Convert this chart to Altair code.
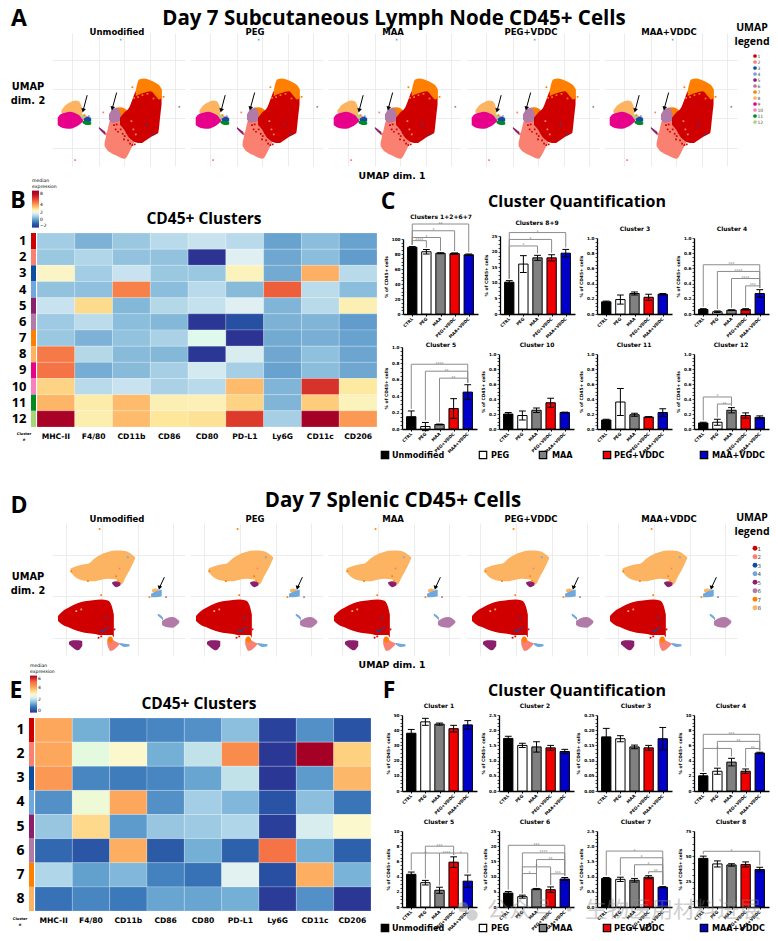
import altair as alt
import pandas as pd

BOLD = "DejaVu Sans"
HEAD = "Open Sans"

# ---------- shared categories ----------
CLUSTER_COLORS = {1: "#d00000", 2: "#fa8072", 3: "#0b4ea2", 4: "#6fa8dc", 5: "#8b1f6b", 6: "#b27aa6",
                  7: "#ff7f00", 8: "#fdb462", 9: "#e7008a", 10: "#f781bf", 11: "#008a22", 12: "#a6d67a"}
MARKERS = ["MHC-II", "F4/80", "CD11b", "CD86", "CD80", "PD-L1", "Ly6G", "CD11c", "CD206"]
GROUPS = ["CTRL", "PEG", "MAA", "PEG+VDDC", "MAA+VDDC"]
GROUP_COLORS = ["#000000", "#ffffff", "#808080", "#f00000", "#0000c8"]
TREATMENTS = ["Unmodified", "PEG", "MAA", "PEG+VDDC", "MAA+VDDC"]

# ---------- heatmaps ----------
HEAT_B = [
    [1.0, 0.5, 0.9, 1.3, 1.5, 1.3, 0.2, 0.7, 0.2],
    [0.9, 1.2, 0.8, 0.8, -2, 1.9, 0.3, 0.7, 0.1],
    [2.6, 1.0, 1.5, 0.9, 0.9, 2.7, 0.35, 3.9, 1.3],
    [0.8, 0.75, 4.7, 0.7, 1.3, 0.65, 5.3, 1.35, 0.7],
    [1.5, 3.2, 0.6, 1.25, 1.45, 1.9, 0.55, 1.3, 2.8],
    [0.95, 1.35, 0.7, 0.6, -1.9, -1.3, 0.5, 0.55, 0.1],
    [0.9, 0.5, 0.8, 1.1, 2.2, -2, 0.35, 0.45, 0.2],
    [4.8, 1.25, 0.65, 0.6, -1.9, 1.8, 0.3, 0.75, 0.25],
    [4.9, 0.4, 0.65, 1.05, 1.7, 1.05, 0.2, 0.7, 0.3],
    [3.3, 1.3, 1.5, 1.1, 1.3, 3.7, 0.55, 6.2, 3.0],
    [3.8, 2.9, 3.7, 2.8, 2.75, 3.3, 0.55, 3.4, 2.7],
    [7.8, 2.85, 3.7, 3.05, 3.1, 6.0, 1.05, 8, 4.3],
]
HEAT_E = [
    [4.1, 1.5, 1.0, 1.1, 1.2, 1.7, 0.2, 1.2, 0.4],
    [4.1, 2.8, 3.0, 1.5, 2.2, 4.5, 0.05, 6.0, 3.6],
    [4.3, 1.1, 1.0, 1.1, 1.4, 2.2, 0.05, 1.3, 3.9],
    [1.2, 2.9, 4.1, 1.2, 1.9, 1.6, 0.4, 1.7, 0.9],
    [1.8, 3.5, 1.3, 1.8, 1.85, 2.0, 0.15, 2.4, 3.0],
    [0.7, 0.45, 4.0, 0.5, 1.5, 0.6, 4.9, 1.5, 0.6],
    [2.0, 1.35, 1.6, 1.05, 0.85, 2.5, 0.35, 4.0, 1.55],
    [0.85, 1.1, 0.95, 1.4, 1.4, 1.5, 0.1, 1.2, 0.05],
]
B_DOMAIN = [-2, -1, 0, 1, 1.5, 2, 2.5, 3, 3.5, 4, 5, 6, 7, 8]
B_RANGE = ["#2c3393", "#2a5ca6", "#5a97c9", "#a2cde4", "#c8e3ef", "#e6f3f4", "#fbf7cf", "#fee9a0", "#fdc674",
           "#fdaa5f", "#f46d43", "#dd3a2b", "#b5122a", "#a50026"]
E_DOMAIN = [0, 0.5, 1, 1.5, 2, 2.5, 3, 3.5, 4, 4.5, 5, 5.5, 6]
E_RANGE = ["#2c3393", "#2b5aa7", "#3f7cbc", "#74afd6", "#b0d6e9", "#e2f2f1", "#fbf8cd", "#fed98b", "#fdae61",
           "#f98b4d", "#f46d43", "#d73027", "#a50026"]

# ---------- bar panels: title, axis top, major step, label format, values, errors, brackets (from, to, level, stars) ----------
BARS_C = [
    ("Clusters 1+2+6+7", 100, 20, "d", [89, 83, 81, 80.5, 79], [1, 3, 0.7, 1, 1],
     [(0, 1, 97.8, "****"), (0, 2, 102, "*"), (0, 3, 111, "*"), (0, 4, 120, "**")]),
    ("Clusters 8+9", 25, 5, "d", [10.2, 16, 18, 18, 19.5], [0.5, 2.7, 0.8, 1, 1.2],
     [(0, 2, 21.8, "*"), (0, 3, 23.9, "*"), (0, 4, 26.1, "*")]),
    ("Cluster 3", 1, 0.2, ".1f", [0.16, 0.19, 0.27, 0.22, 0.26], [0.01, 0.06, 0.02, 0.04, 0.01], []),
    ("Cluster 4", 1, 0.2, ".1f", [0.06, 0.03, 0.05, 0.06, 0.27], [0.01, 0.01, 0.005, 0.01, 0.05],
     [(0, 4, 0.648, "***"), (1, 4, 0.56, "****"), (2, 4, 0.467, "****"), (3, 4, 0.37, "***")]),
    ("Cluster 5", 1, 0.2, ".1f", [0.15, 0.03, 0.055, 0.25, 0.45], [0.07, 0.05, 0.005, 0.12, 0.09],
     [(0, 4, 0.79, "****"), (1, 4, 0.705, "**"), (2, 4, 0.62, "**")]),
    ("Cluster 10", 1, 0.2, ".1f", [0.2, 0.18, 0.25, 0.35, 0.22], [0.02, 0.06, 0.03, 0.06, 0.005], []),
    ("Cluster 11", 1, 0.2, ".1f", [0.12, 0.36, 0.19, 0.16, 0.22], [0.01, 0.18, 0.02, 0.005, 0.05], []),
    ("Cluster 12", 1, 0.2, ".1f", [0.08, 0.09, 0.25, 0.18, 0.155], [0.01, 0.04, 0.035, 0.035, 0.02],
     [(0, 2, 0.427, "*"), (1, 2, 0.333, "**")]),
]
BARS_F = [
    ("Cluster 1", 50, 10, "d", [38, 45.5, 44, 41, 43.5], [2.5, 2.3, 0.7, 2.2, 2.8], []),
    ("Cluster 2", 2.5, 0.5, ".1f", [1.73, 1.5, 1.45, 1.42, 1.3], [0.07, 0.07, 0.17, 0.08, 0.07], []),
    ("Cluster 3", 0.25, 0.05, ".2f", [0.178, 0.172, 0.145, 0.142, 0.172], [0.028, 0.01, 0.006, 0.008, 0.037], []),
    ("Cluster 4", 10, 2, "d", [2, 2.6, 3.8, 2.6, 5.0], [0.3, 0.4, 0.5, 0.3, 0.1],
     [(0, 4, 7.46, "***"), (1, 4, 6.53, "**"), (0, 2, 5.6, "*"), (3, 4, 5.6, "**")]),
    ("Cluster 5", 10, 2, "d", [4.3, 3.2, 2.2, 5.9, 3.4], [0.3, 0.3, 0.4, 0.7, 0.8],
     [(1, 3, 8.0, "***"), (0, 2, 7.1, "*"), (2, 3, 7.1, "****"), (3, 4, 7.1, "*")]),
    ("Cluster 6", 25, 5, "d", [4.6, 3.4, 5.9, 5.7, 9.2], [0.5, 0.5, 0.2, 0.9, 0.5],
     [(0, 4, 20.3, "***"), (1, 4, 17.8, "****"), (2, 4, 15.6, "**"), (1, 3, 13.2, "*"), (3, 4, 10.9, "***"), (1, 2, 11, "*")]),
    ("Cluster 7", 2.5, 0.5, ".1f", [0.94, 0.91, 0.88, 0.98, 0.65], [0.03, 0.07, 0.06, 0.05, 0.02],
     [(0, 4, 1.84, "*"), (1, 4, 1.62, "*"), (2, 4, 1.39, "*"), (3, 4, 1.16, "**")]),
    ("Cluster 8", 75, 25, "d", [48, 42.5, 41.5, 42, 37], [2.2, 3, 1.2, 2.5, 2.2], [(0, 4, 55, "*")]),
]

# ---------- UMAP blobs: cluster, [(x, top, bottom), ...] ----------
UMAP_A = [
    (8, [(183, 328, 335), (195, 312, 337), (210, 303, 335), (225, 298, 337), (235, 300, 345), (245, 320, 350)]),
    (9, [(172, 350, 372), (180, 340, 378), (195, 335, 382), (210, 332, 383), (225, 336, 378), (240, 345, 368), (248, 352, 360)]),
    (10, [(243, 345, 352), (255, 344, 360), (270, 348, 356)]),
    (3, [(250, 352, 358), (262, 348, 364), (272, 352, 360)]),
    (11, [(246, 360, 366), (258, 360, 372), (272, 362, 370)]),
    (12, [(240, 342, 348), (248, 340, 352), (254, 346, 350)]),
    (2, [(312, 425, 435), (320, 390, 448), (330, 355, 455), (345, 350, 463), (360, 350, 470), (372, 350, 473), (385, 350, 455), (400, 370, 425), (412, 380, 410)]),
    (2, [(300, 388, 390), (314, 394, 402), (325, 396, 410)]),
    (5, [(295, 378, 383), (305, 385, 393), (314, 392, 402)]),
    (7, [(345, 320, 330), (358, 318, 350), (372, 322, 350), (382, 330, 345)]),
    (6, [(325, 340, 355), (335, 325, 365), (350, 320, 362), (362, 345, 358)]),
    (1, [(358, 350, 372), (370, 335, 385), (385, 320, 410), (395, 295, 418), (405, 270, 424), (420, 262, 426), (435, 262, 418), (450, 265, 408), (465, 270, 400), (472, 285, 396), (478, 285, 345), (482, 285, 310)]),
    (7, [(405, 268, 285), (415, 235, 280), (430, 232, 275), (450, 238, 270), (465, 245, 285), (475, 252, 295), (483, 265, 290)]),
]
SPECKS_A = [(360, 115, 4), (395, 258, 7), (308, 334, 2), (488, 287, 7), (535, 317, 6), (224, 477, 2), (437, 370, 3),
            (400, 290, 7), (412, 288, 7), (425, 282, 7), (440, 278, 7), (458, 292, 7), (345, 385, 1), (352, 392, 1),
            (360, 385, 1), (366, 398, 1), (372, 405, 1), (378, 395, 1), (382, 418, 1), (370, 415, 1), (388, 428, 1),
            (395, 432, 1), (402, 430, 1), (340, 372, 1), (348, 370, 1), (392, 360, 2), (398, 385, 2), (405, 400, 2),
            (455, 400, 3), (265, 345, 4), (252, 342, 7)]
ARROWS_A = [(260, 282, 248, 328), (348, 274, 335, 322)]
GRID_A = ([216, 294, 370, 447, 522], [176, 264, 352, 440])

UMAP_D = [
    (8, [(208, 262, 272), (225, 255, 290), (245, 250, 298), (265, 245, 300), (280, 232, 300), (295, 222, 297), (320, 212, 293), (345, 208, 295), (360, 208, 310), (375, 210, 285), (390, 218, 258), (402, 228, 232)]),
    (5, [(333, 303, 308), (345, 300, 318), (358, 305, 312)]),
    (1, [(170, 405, 420), (185, 390, 432), (205, 378, 440), (225, 368, 448), (250, 360, 455), (275, 357, 458), (300, 355, 462), (320, 358, 462), (332, 375, 462), (338, 400, 470)]),
    (5, [(203, 483, 490), (215, 478, 500), (230, 478, 508), (243, 480, 495)]),
    (2, [(318, 475, 490), (328, 470, 510), (340, 480, 505), (355, 487, 490)]),
    (7, [(320, 470, 480), (328, 466, 485), (335, 472, 480)]),
    (4, [(355, 486, 490), (370, 488, 498), (385, 490, 496)]),
    (6, [(483, 420, 432), (495, 412, 438), (515, 408, 440), (528, 414, 432), (535, 420, 424)]),
    (4, [(470, 398, 403), (478, 402, 410), (486, 410, 418)]),
    (8, [(453, 325, 332), (462, 322, 335), (472, 325, 335)]),
    (4, [(450, 338, 348), (462, 332, 348), (482, 325, 345)]),
]
SPECKS_D = [(295, 143, 7), (300, 342, 7), (495, 348, 6), (445, 348, 7), (380, 228, 4), (305, 450, 3), (298, 448, 3),
            (312, 446, 3), (320, 440, 3), (240, 385, 8), (225, 390, 8), (355, 262, 2), (328, 455, 1), (340, 445, 1),
            (300, 466, 1), (292, 470, 1), (345, 285, 7), (260, 300, 7), (210, 270, 7), (315, 410, 3), (350, 300, 7)]
ARROWS_D = [(490, 288, 475, 320)]
GRID_D = ([195, 302, 410, 516], [220, 346, 472])

# ---------- free-standing figure text: text, x, y, size ----------
HEADINGS = [("Day 7 Subcutaneous Lymph Node CD45+ Cells", 394, 24, 20.5), ("Day 7 Splenic CD45+ Cells", 393, 506, 20.5),
            ("CD45+ Clusters", 204, 223, 15.5), ("CD45+ Clusters", 199, 708, 15.5),
            ("Cluster Quantification", 577, 206, 16), ("Cluster Quantification", 577, 695, 16),
            ("A", 19, 25, 23), ("B", 18, 207, 23), ("C", 388, 208, 23), ("D", 19, 512, 23), ("E", 16, 697, 23), ("F", 389, 697, 23),
            ("UMAP", 752, 30, 10.5), ("legend", 752, 44, 10.5), ("UMAP", 752, 520, 10.5), ("legend", 752, 534, 10.5)]
LABELS = [("UMAP", 28, 89, 9.8), ("dim. 2", 28, 103, 9.8), ("UMAP", 28, 579, 9.8), ("dim. 2", 28, 593, 9.8),
          ("UMAP dim. 1", 392, 178, 9.3), ("UMAP dim. 1", 392, 667, 9.3),
          ("Cluster", 24, 434, 3.6), ("#", 24, 440, 3.6), ("Cluster", 20, 919, 3.6), ("#", 20, 925, 3.6)]
TREATMENT_X = [117, 255, 393, 531, 669]
BAR_TITLE_X_C = [441, 537, 635, 732, 441, 537, 634, 731]
BAR_TITLE_Y_C = [218, 224, 230, 230, 346, 346, 346, 346]
BAR_TITLE_X_F = [439, 535, 636, 731, 439, 535, 636, 731]
BAR_TITLE_Y_F = [707, 707, 707, 707, 823, 823, 823, 823]
KEY_Y = [457, 930]
KEY_SQUARE_X = [385, 483, 543, 607, 704]
KEY_TEXT_X = [392, 491, 552, 614, 712]
WATERMARK = "公众号 · 生物医用材料进展"

alt.data_transformers.disable_max_rows()


def gap(w, h):
    return alt.Chart(alt.Data(values=[{"a": 0}])).mark_text().properties(width=w, height=h)


def umap_panel(blobs, specks, arrows, grid, xdom, ydom):
    rows = []
    for i, (cl, pts) in enumerate(blobs):
        for x, a, b in pts:
            rows.append({"blob": i, "x": x, "y0": a, "y1": b, "c": CLUSTER_COLORS[cl]})
    blob_df = pd.DataFrame(rows)
    sp_df = pd.DataFrame([{"x": x, "y": y, "c": CLUSTER_COLORS[c]} for x, y, c in specks])
    ar_df = pd.DataFrame([{"x": a, "y": b, "x2": c, "y2": d} for a, b, c, d in arrows])
    xs = alt.Scale(domain=xdom, nice=False, zero=False)
    ys = alt.Scale(domain=ydom, nice=False, zero=False)
    xa = alt.Axis(values=grid[0], grid=True, gridColor="#ececec", gridWidth=1, domain=False, ticks=False, labels=False, title=None)
    ya = alt.Axis(values=grid[1], grid=True, gridColor="#ececec", gridWidth=1, domain=False, ticks=False, labels=False, title=None)
    area = alt.Chart(blob_df).mark_area(interpolate="monotone").encode(
        x=alt.X("x:Q", scale=xs, axis=xa), y=alt.Y("y0:Q", scale=ys, axis=ya), y2="y1:Q",
        color=alt.Color("c:N", scale=None), detail="blob:N")
    dots = alt.Chart(sp_df).mark_square(size=3, opacity=1).encode(
        x=alt.X("x:Q", scale=xs, axis=xa), y=alt.Y("y:Q", scale=ys, axis=ya), color=alt.Color("c:N", scale=None))
    shaft = alt.Chart(ar_df).mark_rule(color="black", strokeWidth=1).encode(
        x=alt.X("x:Q", scale=xs, axis=xa), y=alt.Y("y:Q", scale=ys, axis=ya), x2="x2:Q", y2="y2:Q")
    head = alt.Chart(ar_df).mark_point(shape="triangle-up", filled=True, color="black", opacity=1, size=22, angle=195).encode(
        x=alt.X("x2:Q", scale=xs, axis=xa), y=alt.Y("y2:Q", scale=ys, axis=ya))
    return area + dots + shaft + head


def legend_panel(n, size, font):
    df = pd.DataFrame([{"k": i, "f": 1, "c": CLUSTER_COLORS[i]} for i in range(1, n + 1)])
    return alt.Chart(df).mark_circle(size=size, opacity=1).encode(
        x=alt.X("f:Q", axis=None),
        y=alt.Y("k:O", scale=alt.Scale(domain=list(range(1, n + 1))),
                axis=alt.Axis(orient="right", title=None, domain=False, ticks=False, labelFontSize=font,
                              labelColor="#444", labelAngle=0, labelPadding=2, labelFont=BOLD)),
        color=alt.Color("c:N", scale=None))


def heatmap(matrix, domain, rng, digit, ticks):
    n = len(matrix)
    order = list(range(1, n + 1))
    df = pd.DataFrame([{"k": r + 1, "m": MARKERS[c], "v": matrix[r][c]} for r in range(n) for c in range(9)])
    strip_df = pd.DataFrame([{"k": i, "c": CLUSTER_COLORS[i]} for i in order])
    ya = alt.Axis(title=None, domain=False, ticks=False, labelFontSize=digit, labelFont=HEAD, labelFontWeight="bold",
                  labelPadding=11, labelColor="black", labelAngle=0)
    ysc = alt.Scale(domain=order, paddingInner=0, paddingOuter=0)
    cells = alt.Chart(df).mark_rect(stroke="white", strokeOpacity=0.3, strokeWidth=0.7).encode(
        x=alt.X("m:N", sort=MARKERS, scale=alt.Scale(domain=MARKERS, paddingInner=0, paddingOuter=0),
                axis=alt.Axis(title=None, domain=False, ticks=False, labelAngle=0, labelFontSize=7.6, labelFont=BOLD,
                              labelFontWeight="bold", labelPadding=5, labelColor="black")),
        y=alt.Y("k:O", scale=ysc, axis=ya),
        color=alt.Color("v:Q", scale=alt.Scale(domain=domain, range=rng, clamp=True),
                        legend=alt.Legend(orient="none", legendX=-5, legendY=-55, title=["median", "expression"], titleFontSize=4.6,
                                          titleFont=BOLD, titleFontWeight="normal", titlePadding=2, titleLineHeight=6,
                                          gradientLength=37, gradientThickness=7, labelFontSize=4.5, labelFont=BOLD, labelOffset=1,
                                          values=ticks, labelOverlap=False, gradientStrokeWidth=0)))
    strip = alt.Chart(strip_df).mark_rect().encode(
        x=alt.value(-6), x2=alt.value(-1), y=alt.Y("k:O", scale=ysc, axis=ya),
        color=alt.Color("c:N", scale=None, legend=None))
    return alt.layer(cells, strip).resolve_scale(color="independent")


def bar_panel(spec):
    title, top, major, fmt, vals, errs, brackets = spec
    df = pd.DataFrame([{"i": i, "a": i - 0.33, "b": i + 0.33, "l": i - 0.24, "r": i + 0.24, "v": v, "lo": v - e, "hi": v + e, "z": 0, "c": GROUP_COLORS[i]}
                       for i, (v, e) in enumerate(zip(vals, errs))])
    xs = alt.Scale(domain=[-0.655, 4.655], nice=False, zero=False)
    ys = alt.Scale(domain=[0, top], nice=False)
    ticks = [round(k * major / 4, 6) for k in range(int(round(top / (major / 4))) + 1)]
    labels = "['" + "','".join(GROUPS) + "'][datum.value]"
    ylabels = f"abs(datum.value/{major}-round(datum.value/{major}))<0.001 ? format(datum.value,'{fmt}') : ''"
    xa = alt.Axis(values=[0, 1, 2, 3, 4], labelExpr=labels, title=None, labelAngle=-45, labelAlign="right",
                  labelBaseline="middle", labelFontSize=4.2, labelFont=BOLD, labelFontWeight="bold", labelColor="black", labelPadding=2,
                  tickColor="black", tickSize=2, tickWidth=1, domainColor="black", domainWidth=1.3, grid=False, labelOverlap=False)
    ya = alt.Axis(values=ticks, labelExpr=ylabels, title="% of CD45+ cells", titleFontSize=4.4, titleFont=BOLD,
                  titleFontWeight="bold", titlePadding=3, titleColor="black", labelFontSize=4.2, labelFont=BOLD, labelFontWeight="bold", labelColor="black",
                  labelPadding=1, tickColor="black", tickSize=2, tickWidth=0.7, domainColor="black", domainWidth=1.3, grid=False, labelOverlap=False)
    bars = alt.Chart(df).mark_bar(stroke="black", strokeWidth=1).encode(
        x=alt.X("a:Q", scale=xs, axis=xa), x2="b:Q", y=alt.Y("v:Q", scale=ys, axis=ya), y2="z:Q",
        color=alt.Color("c:N", scale=None))
    stem = alt.Chart(df).mark_rule(color="black", strokeWidth=1).encode(
        x=alt.X("i:Q", scale=xs, axis=xa), y=alt.Y("lo:Q", scale=ys, axis=ya), y2="hi:Q")
    cap1 = alt.Chart(df).mark_rule(color="black", strokeWidth=1).encode(
        x=alt.X("l:Q", scale=xs, axis=xa), x2="r:Q", y=alt.Y("hi:Q", scale=ys, axis=ya))
    cap2 = alt.Chart(df).mark_rule(color="black", strokeWidth=1).encode(
        x=alt.X("l:Q", scale=xs, axis=xa), x2="r:Q", y=alt.Y("lo:Q", scale=ys, axis=ya))
    layers = [bars, stem, cap1, cap2]
    if brackets:
        h, v, t = [], [], []
        for a, b, lev, star in brackets:
            h.append({"a": a, "b": b, "y": lev})
            pad = top * 0.025
            v.append({"x": a, "y": lev, "y2": vals[a] + errs[a] + pad})
            v.append({"x": b, "y": lev, "y2": vals[b] + errs[b] + pad})
            t.append({"x": (a + b) / 2, "y": lev, "t": star})
        layers.append(alt.Chart(pd.DataFrame(h)).mark_rule(color="#8c8c8c", strokeWidth=1).encode(
            x=alt.X("a:Q", scale=xs, axis=xa), x2="b:Q", y=alt.Y("y:Q", scale=ys, axis=ya)))
        layers.append(alt.Chart(pd.DataFrame(v)).mark_rule(color="#8c8c8c", strokeWidth=1).encode(
            x=alt.X("x:Q", scale=xs, axis=xa), y=alt.Y("y:Q", scale=ys, axis=ya), y2="y2:Q"))
        layers.append(alt.Chart(pd.DataFrame(t)).mark_text(fontSize=4, color="#666", baseline="alphabetic", dy=0.5, font=BOLD).encode(
            x=alt.X("x:Q", scale=xs, axis=xa), y=alt.Y("y:Q", scale=ys, axis=ya), text="t:N"))
    return alt.layer(*layers)


# ---------- overlay in figure coordinates ----------
OX, OY = 8, 8


def text_layer(rows, font, weight="bold", color="black", opacity=1.0):
    df = pd.DataFrame([{"t": t, "x": x - OX, "y": y - OY, "s": s} for t, x, y, s in rows])
    return alt.Chart(df).mark_text(font=font, fontWeight=weight, color=color, opacity=opacity, baseline="alphabetic", align="center").encode(
        x=alt.X("x:Q", scale=None, axis=None), y=alt.Y("y:Q", scale=None, axis=None), text="t:N", size=alt.Size("s:Q", scale=None))


small = list(LABELS)
for base in (34, 521):
    small += [(t, x, base, 8.5) for t, x in zip(TREATMENTS, TREATMENT_X)]
small += [(s[0], x, y, 6) for s, x, y in zip(BARS_C, BAR_TITLE_X_C, BAR_TITLE_Y_C)]
small += [(s[0], x, y, 6) for s, x, y in zip(BARS_F, BAR_TITLE_X_F, BAR_TITLE_Y_F)]

keys_df = pd.DataFrame([{"x": x - OX, "y": y - 3 - OY, "c": c} for y in KEY_Y for x, c in zip(KEY_SQUARE_X, GROUP_COLORS)])
key_text = pd.DataFrame([{"t": t, "x": x - OX, "y": y + 0 - OY} for y in KEY_Y for t, x in zip(TREATMENTS, KEY_TEXT_X)])
wm_df = pd.DataFrame([{"x": 463 - OX, "y": 906 - OY, "s": 110}, {"x": 472 - OX, "y": 914 - OY, "s": 130}])

overlay = alt.layer(
    text_layer(HEADINGS, HEAD),
    text_layer(small, BOLD),
    alt.Chart(keys_df).mark_square(size=55, stroke="black", strokeWidth=1.2, opacity=1).encode(
        x=alt.X("x:Q", scale=None, axis=None), y=alt.Y("y:Q", scale=None, axis=None), color=alt.Color("c:N", scale=None)),
    alt.Chart(key_text).mark_text(font=BOLD, fontWeight="bold", fontSize=8.1, align="left", baseline="alphabetic", color="black").encode(
        x=alt.X("x:Q", scale=None, axis=None), y=alt.Y("y:Q", scale=None, axis=None), text="t:N"),
    alt.Chart(wm_df).mark_circle(color="#9a9a9a", opacity=0.45).encode(
        x=alt.X("x:Q", scale=None, axis=None), y=alt.Y("y:Q", scale=None, axis=None), size=alt.Size("s:Q", scale=None)),
    text_layer([(WATERMARK, 624, 916, 22)], "Noto Sans CJK SC", weight="normal", color="#8a8a8a", opacity=0.4),
).properties(width=1, height=1)

# ---------- placement in figure pixels ----------
XS_UMAP = [52, 190, 328, 466, 604]
umap_a = umap_panel(UMAP_A, SPECKS_A, ARROWS_A, GRID_A, [155, 552], [495, 95])
umap_d = umap_panel(UMAP_D, SPECKS_D, ARROWS_D, GRID_D, [152, 552], [525, 125])


def placed(ch, x, y, w, h):
    inner = alt.hconcat(gap(max(x - 8, 1), 1), ch.properties(width=w, height=h), spacing=0, bounds="flush")
    return alt.vconcat(gap(1, max(y - 8, 1)), inner, spacing=0, bounds="flush")


items = [placed(umap_a, x, 32, 133, 133) for x in XS_UMAP]
items.append(placed(legend_panel(12, 14, 4.5), 747, 52, 8, 72))
items += [placed(umap_d, x, 522, 133, 133) for x in XS_UMAP]
items.append(placed(legend_panel(8, 24, 5.5), 747, 543, 8, 68))
items.append(placed(heatmap(HEAT_B, B_DOMAIN, B_RANGE, 13, [-2, 0, 2, 4, 8]), 37, 232, 340, 194))
items.append(placed(heatmap(HEAT_E, E_DOMAIN, E_RANGE, 14, [0, 2, 4, 6]), 35, 717, 336, 193))
PLACES_C = [(403, 238, 75), (500, 235, 78), (597, 237, 76), (694, 237, 76), (402, 346, 82), (499, 353, 75), (597, 353, 75), (694, 353, 75)]
PLACES_F = [(402, 714, 76), (499, 714, 76), (597, 714, 76), (694, 714, 76), (402, 830, 76), (499, 830, 76), (597, 830, 76), (694, 830, 76)]
for spec, (x, y, h) in list(zip(BARS_C, PLACES_C)) + list(zip(BARS_F, PLACES_F)):
    items.append(placed(bar_panel(spec), x, y, 75, h))
items.append(overlay)

chart = alt.vconcat(*items, spacing=0, bounds="flush").properties(padding=0).configure_view(stroke=None)

chart.save("out.html", embed_options={"renderer": "svg", "actions": False})
